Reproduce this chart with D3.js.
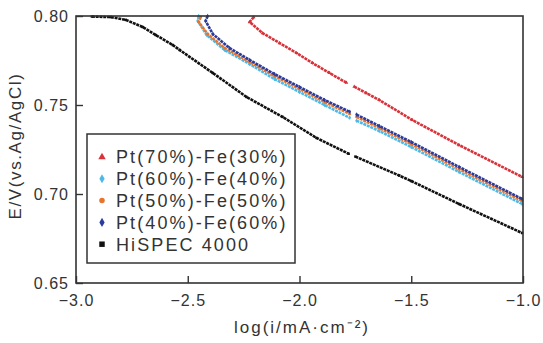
<!DOCTYPE html>
<html>
<head>
<meta charset="utf-8">
<script src="https://cdn.jsdelivr.net/npm/d3@7"></script>
<style>
    body { margin: 0; background: #fff; }
    text { font-family: "Liberation Sans", Arial, sans-serif; fill: #333; }
</style>
</head>
<body>
<svg id="chart" width="543" height="343"></svg>
<script>
// Tafel plot: E vs log(i) (null = gap between runs)

var series_names = ["Pt(70%)-Fe(30%)", "Pt(60%)-Fe(40%)", "Pt(50%)-Fe(50%)", "Pt(40%)-Fe(60%)", "HiSPEC 4000"];
var series_colors = ["#d8323a", "#4cb9e8", "#e8742c", "#2b3c9c", "#111111"];
var series_shapes = [d3.symbolTriangle, d3.symbolDiamond, d3.symbolCircle, d3.symbolDiamond, d3.symbolSquare];

var logi_pt70 = [-2.205, -2.223, -2.165, -2.089, -2.013, -1.942, -1.866, -1.790, null, -1.755, -1.701, -1.643, -1.496, -1.286, -1.004];
var e_pt70    = [0.7994, 0.7966, 0.7904, 0.7848, 0.7792, 0.7736, 0.7680, 0.7625, null, 0.7603, 0.7567, 0.7528, 0.7416, 0.7275, 0.7096];

var logi_pt60 = [-2.451, -2.455, -2.415, -2.335, -2.223, -2.112, -2.000, -1.888, -1.775, null, -1.745, -1.643, -1.500, -1.286, -1.004];
var e_pt60    = [0.8000, 0.7972, 0.7893, 0.7809, 0.7730, 0.7646, 0.7573, 0.7500, 0.7428, null, 0.7412, 0.7354, 0.7264, 0.7124, 0.6944];

var logi_pt50 = [-2.442, -2.451, -2.411, -2.335, -2.223, -2.112, -2.000, -1.888, -1.775, null, -1.745, -1.643, -1.500, -1.286, -1.004];
var e_pt50    = [0.7994, 0.7966, 0.7899, 0.7820, 0.7742, 0.7663, 0.7590, 0.7517, 0.7450, null, 0.7433, 0.7371, 0.7281, 0.7140, 0.6961];

var logi_pt40 = [-2.411, -2.420, -2.388, -2.313, -2.223, -2.112, -2.000, -1.888, -1.775, null, -1.745, -1.643, -1.500, -1.286, -1.004];
var e_pt40    = [0.8000, 0.7972, 0.7899, 0.7820, 0.7753, 0.7674, 0.7601, 0.7528, 0.7462, null, 0.7446, 0.7382, 0.7292, 0.7152, 0.6972];

var logi_hispec = [-2.929, -2.844, -2.777, -2.701, -2.643, -2.567, -2.536, -2.388, -2.237, -2.076, -1.924, -1.780, null, -1.750, -1.554, -1.500, -1.286, -1.004];
var e_hispec    = [0.7997, 0.7994, 0.7978, 0.7938, 0.7893, 0.7837, 0.7809, 0.7680, 0.7545, 0.7433, 0.7315, 0.7226, null, 0.7210, 0.7104, 0.7073, 0.6944, 0.6781];

var x_ticks = [-3.0, -2.5, -2.0, -1.5, -1.0];
var y_ticks = [0.65, 0.70, 0.75, 0.80];

var all_logi = [logi_pt70, logi_pt60, logi_pt50, logi_pt40, logi_hispec];
var all_e = [e_pt70, e_pt60, e_pt50, e_pt40, e_hispec];

var svg = d3.select("#chart");

var plot_left = 76, plot_right = 523, plot_top = 16, plot_bottom = 283;

var x = d3.scaleLinear().domain([-3, -1]).range([plot_left, plot_right]);
var y = d3.scaleLinear().domain([0.65, 0.80]).range([plot_bottom, plot_top]);

var plot = svg.append("g");

// curves, black first so the blue sits on top like the picture
var order = [4, 0, 1, 2, 3];
order.forEach(function(s) {
    var pts = all_logi[s].map(function(v, i) {
        return v === null ? null : [v, all_e[s][i]];
    });

    var line = d3.line()
        .defined(function(d) { return d !== null; })
        .x(function(d) { return x(d[0]); })
        .y(function(d) { return y(d[1]); });

    plot.append("path")
        .attr("d", line(pts))
        .attr("fill", "none")
        .attr("stroke", series_colors[s])
        .attr("stroke-width", 2.6)
        .attr("stroke-dasharray", "3,0.8");

    plot.selectAll(null)
        .data(pts.filter(function(d) { return d !== null; }))
        .enter()
        .append("path")
        .attr("transform", function(d) {
            return "translate(" + x(d[0]) + "," + y(d[1]) + ")";
        })
        .attr("d", d3.symbol().type(series_shapes[s]).size(6))
        .attr("fill", series_colors[s]);
});

// axes with inward ticks
var fmt = d3.format(".1f");
var fmt2 = d3.format(".2f");

svg.append("g")
    .attr("transform", "translate(0," + plot_bottom + ")")
    .call(d3.axisBottom(x).tickValues(x_ticks).tickSizeInner(-7).tickSizeOuter(0).tickPadding(12).tickFormat(fmt))
    .call(function(g) {
        g.select(".domain").remove();
        g.selectAll("line").attr("stroke", "#333").attr("stroke-width", 1.4);
        g.selectAll("text").attr("font-size", "16px").attr("letter-spacing", "1px").attr("fill", "#333");
    });

svg.append("g")
    .attr("transform", "translate(" + plot_left + ",0)")
    .call(d3.axisLeft(y).tickValues(y_ticks).tickSizeInner(-7).tickSizeOuter(0).tickPadding(7).tickFormat(fmt2))
    .call(function(g) {
        g.select(".domain").remove();
        g.selectAll("line").attr("stroke", "#333").attr("stroke-width", 1.4);
        g.selectAll("text").attr("font-size", "16px").attr("letter-spacing", "1px").attr("fill", "#333");
    });

// frame
svg.append("rect")
    .attr("x", plot_left)
    .attr("y", plot_top)
    .attr("width", plot_right - plot_left)
    .attr("height", plot_bottom - plot_top)
    .attr("fill", "none")
    .attr("stroke", "#333")
    .attr("stroke-width", 1.6);

// axis titles
svg.append("text")
    .attr("x", 302)
    .attr("y", 333)
    .attr("text-anchor", "middle")
    .attr("font-size", "17px")
    .attr("letter-spacing", "2px")
    .text("log(i/mA·cm⁻²)");

svg.append("text")
    .attr("transform", "translate(21,146) rotate(-90)")
    .attr("text-anchor", "middle")
    .attr("font-size", "17px")
    .attr("letter-spacing", "1.6px")
    .text("E/V(vs.Ag/AgCl)");

// legend
var legend = svg.append("g");

legend.append("rect")
    .attr("x", 87)
    .attr("y", 134)
    .attr("width", 208)
    .attr("height", 129)
    .attr("fill", "#fff")
    .attr("stroke", "#333")
    .attr("stroke-width", 1.5);

series_names.forEach(function(name, i) {
    var row_y = 157 + i * 21.8;
    legend.append("path")
        .attr("transform", "translate(102," + row_y + ")")
        .attr("d", d3.symbol().type(series_shapes[i]).size(i == 4 ? 30 : 24))
        .attr("fill", series_colors[i]);
    legend.append("text")
        .attr("x", 116)
        .attr("y", row_y)
        .attr("dy", "0.36em")
        .attr("font-size", "18px")
        .attr("letter-spacing", "2.1px")
        .text(name);
});
</script>
</body>
</html>
